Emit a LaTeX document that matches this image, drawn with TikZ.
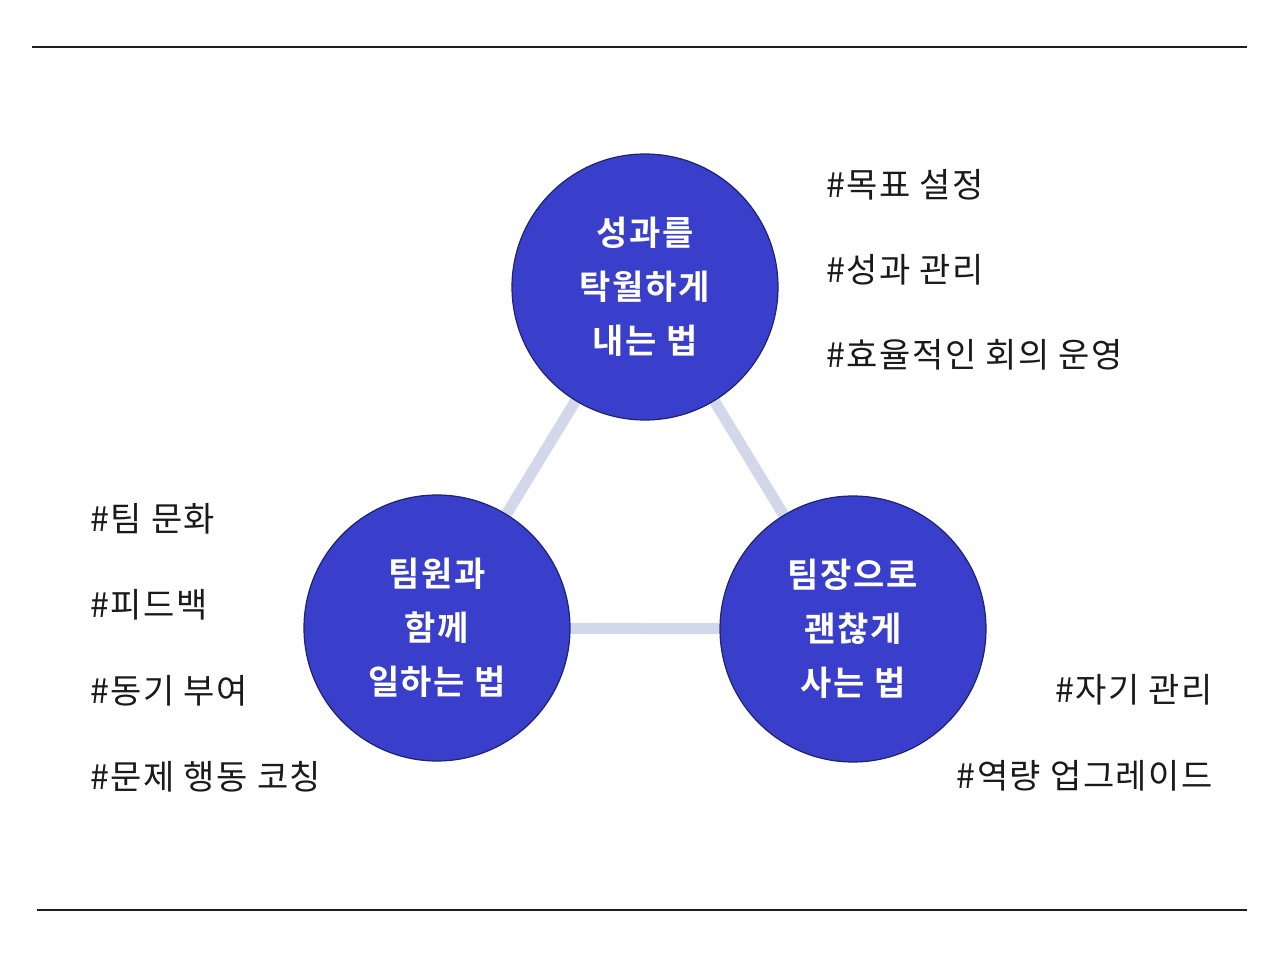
\documentclass[tikz,border=0pt]{standalone}
\usepackage{fontspec}
\newfontfamily\kr[LetterSpace=4.5]{Noto Sans CJK KR}
\newfontfamily\krb[LetterSpace=5]{Noto Sans CJK KR Bold}
\definecolor{circblue}{HTML}{3A3FCB}
\definecolor{circedge}{HTML}{1E2270}
\definecolor{linkc}{HTML}{D2D8EA}
\definecolor{rulec}{HTML}{1C1E2E}
\definecolor{txt}{HTML}{1A1A1A}
\pgfdeclarelayer{back}
\pgfsetlayers{back,main}
\begin{document}
\begin{tikzpicture}[x=1pt,y=-1pt,
  topic/.style={circle, fill=circblue, draw=circedge, line width=1.2pt, minimum size=266pt, inner sep=0pt,
    text=white, align=center, font=\krb\fontsize{34}{54}\selectfont},
  link/.style={draw=linkc, line width=11pt},
  tag/.style={text=txt, inner sep=0pt, font=\kr\fontsize{34}{40}\selectfont},
  rule/.style={draw=rulec, line width=1.6pt}]
\useasboundingbox (0,0) rectangle (1280,958);
\begin{pgfonlayer}{back}
\fill[white] (0,0) rectangle (1280,958);
\end{pgfonlayer}
\coordinate (r1a) at (32,47); \coordinate (r1b) at (1247,47);
\coordinate (r2a) at (37,910); \coordinate (r2b) at (1247,910);
\draw[rule] (r1a) -- (r1b);
\draw[rule] (r2a) -- (r2b);
\node[topic] (top) at (645,287) {성과를\\탁월하게\\내는 법};
\node[topic] (left) at (437,628) {팀원과\\함께\\일하는 법};
\node[topic] (right) at (853,629) {팀장으로\\괜찮게\\사는 법};
\begin{pgfonlayer}{back}
\path[link] (top) -- (left);
\path[link] (top) -- (right);
\path[link] (left) -- (right);
\end{pgfonlayer}
\node[tag, anchor=west] (t1) at (826,185) {\#목표 설정};
\node[tag, anchor=west] (t2) at (826,270) {\#성과 관리};
\node[tag, anchor=west] (t3) at (826,355) {\#효율적인 회의 운영};
\node[tag, anchor=west] (l1) at (90,519) {\#팀 문화};
\node[tag, anchor=west] (l2) at (90,605) {\#피드백};
\node[tag, anchor=west] (l3) at (90,691) {\#동기 부여};
\node[tag, anchor=west] (l4) at (90,777) {\#문제 행동 코칭};
\node[tag, anchor=east] (r1) at (1213,690) {\#자기 관리};
\node[tag, anchor=east] (r2) at (1213,776) {\#역량 업그레이드};
\end{tikzpicture}
\end{document}
